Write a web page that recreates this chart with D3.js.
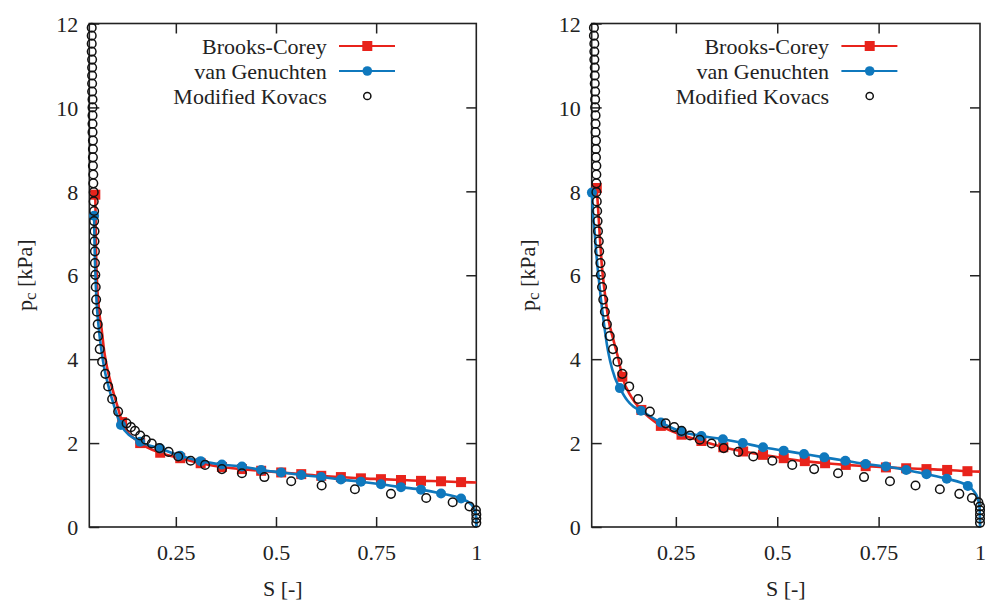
<!DOCTYPE html>
<html><head><meta charset="utf-8">
<script src="https://cdn.jsdelivr.net/npm/d3@7"></script>
<style>body{margin:0;background:#fff}svg{display:block}</style>
</head><body>
<svg id="chart" width="992" height="603"></svg>
<script>
// ---------- data ----------
const seriesNames = ["Brooks-Corey", "van Genuchten", "Modified Kovacs"];
const xTicks = [0.25, 0.5, 0.75, 1];
const xTickLabels = ["0.25", "0.5", "0.75", "1"];
const yTicks = [0, 2, 4, 6, 8, 10, 12];
const xLabel = "S [-]";

// Modified Kovacs: capillary pressure samples (kPa), shared by both panels
const kovacsPc = [11.90,11.71,11.52,11.33,11.14,10.95,10.76,10.57,10.38,10.19,10.00,9.81,9.61,9.41,9.21,9.01,8.81,8.61,8.40,8.19,
  7.98,7.76,7.53,7.29,7.05,6.81,6.57,6.29,6.01,5.72,5.42,5.13,4.83,4.55,4.24,3.94,3.65,3.35,3.05,2.75,
  2.47,2.38,2.29,2.18,2.08,1.99,1.88,1.79,1.68,1.58,1.48,1.38,1.28,1.19,1.09,0.99,0.90,0.79,0.69,0.59,
  0.49,0.40,0.30,0.20,0.10];
// saturation of each Kovacs point, left panel
const kovacsS_A = [0.040,0.040,0.040,0.040,0.041,0.041,0.041,0.041,0.041,0.042,0.042,0.042,0.042,0.042,0.043,0.043,0.043,0.043,0.044,0.044,
  0.045,0.045,0.046,0.046,0.047,0.047,0.048,0.048,0.049,0.050,0.051,0.053,0.055,0.056,0.060,0.066,0.074,0.081,0.091,0.106,
  0.127,0.138,0.148,0.161,0.175,0.190,0.209,0.232,0.256,0.287,0.323,0.365,0.415,0.471,0.538,0.614,0.697,0.787,0.875,0.941,
  0.983,0.999,1.0,1.0,1.0];
// saturation of each Kovacs point, right panel
const kovacsS_B = [0.048,0.048,0.049,0.049,0.049,0.050,0.050,0.050,0.051,0.051,0.051,0.052,0.052,0.052,0.053,0.053,0.053,0.054,0.054,0.054,
  0.054,0.055,0.056,0.057,0.058,0.060,0.061,0.064,0.065,0.068,0.071,0.075,0.080,0.087,0.095,0.106,0.118,0.135,0.157,0.186,
  0.225,0.246,0.264,0.285,0.309,0.338,0.368,0.404,0.441,0.488,0.537,0.591,0.650,0.714,0.778,0.841,0.901,0.949,0.980,0.996,
  1.0,1.0,1.0,1.0,1.0];

// Brooks-Corey, left panel: marker points and extra curve points [S, pc]
const bcMarks_A = [[0.049,7.92],[0.116,2.50],[0.161,2.00],[0.211,1.77],[0.261,1.64],[0.312,1.52],[0.365,1.43],[0.415,1.38],[0.463,1.34],
  [0.513,1.30],[0.563,1.26],[0.613,1.22],[0.662,1.19],[0.712,1.16],[0.762,1.14],[0.812,1.12],[0.862,1.10],[0.912,1.09],[0.962,1.07]];
const bcCurve_A = [[0.050,7.2],[0.051,6.5],[0.053,5.9],[0.058,5.2],[0.065,4.70],[0.071,4.2],[0.078,3.82],[0.090,3.35],[0.107,2.79],[1.0,1.06]];
// van Genuchten, left panel
const vgMarks_A = [[0.046,7.42],[0.113,2.43],[0.161,2.03],[0.211,1.87],[0.261,1.70],[0.312,1.57],[0.365,1.49],[0.415,1.44],[0.463,1.36],
  [0.513,1.30],[0.563,1.24],[0.613,1.19],[0.662,1.13],[0.712,1.08],[0.762,1.02],[0.812,0.95],[0.862,0.89],[0.912,0.80],[0.962,0.68]];
const vgCurve_A = [[0.047,6.8],[0.049,6.1],[0.052,5.4],[0.057,4.8],[0.063,4.3],[0.071,3.8],[0.082,3.35],[0.097,2.85],
  [0.985,0.56],[0.995,0.42],[0.999,0.28],[1.0,0.0]];

// Brooks-Corey, right panel
const bcMarks_B = [[0.055,8.08],[0.118,3.58],[0.165,2.79],[0.213,2.41],[0.264,2.20],[0.313,2.05],[0.367,1.90],[0.416,1.80],[0.465,1.72],
  [0.516,1.64],[0.568,1.57],[0.618,1.52],[0.669,1.48],[0.718,1.45],[0.768,1.42],[0.818,1.40],[0.868,1.38],[0.919,1.36],[0.969,1.33]];
const bcCurve_B = [[0.059,7.48],[0.063,6.85],[0.067,6.29],[0.076,5.49],[0.084,4.94],[0.096,4.46],[0.109,3.98],[0.140,3.10],[1.0,1.32]];
// van Genuchten, right panel
const vgMarks_B = [[0.043,7.97],[0.112,3.31],[0.164,2.77],[0.213,2.49],[0.264,2.27],[0.313,2.17],[0.366,2.09],[0.415,2.00],[0.465,1.90],
  [0.516,1.82],[0.566,1.74],[0.616,1.66],[0.668,1.58],[0.718,1.50],[0.768,1.44],[0.818,1.36],[0.868,1.26],[0.918,1.15],[0.970,0.98]];
const vgCurve_B = [[0.046,7.45],[0.050,7.0],[0.054,6.5],[0.059,6.0],[0.065,5.45],[0.072,4.9],[0.080,4.35],[0.088,3.95],[0.100,3.55],
  [0.130,3.02],[0.145,2.87],[0.985,0.85],[0.994,0.70],[0.999,0.45],[1.0,0.0]];

// ---------- drawing ----------
const RED = "#e8231b", BLUE = "#0f78bd", INK = "#222";
const FONT = "'Liberation Serif','Times New Roman',serif";
const svg = d3.select("#chart");

const panels = [
  {x0: 89.3, x1: 476.3, sMin: 0.034, kS: kovacsS_A, bcM: bcMarks_A, bcC: bcCurve_A, vgM: vgMarks_A, vgC: vgCurve_A},
  {x0: 591.7, x1: 980, sMin: 0.0425, kS: kovacsS_B, bcM: bcMarks_B, bcC: bcCurve_B, vgM: vgMarks_B, vgC: vgCurve_B}
];
const yTop = 23.5, yBot = 527;

panels.forEach(p => {
  const x = d3.scaleLinear().domain([p.sMin, 1]).range([p.x0, p.x1]);
  const y = d3.scaleLinear().domain([0, 12]).range([yBot, yTop]);
  const g = svg.append("g");

  // axes
  const styleAxis = sel => {
    sel.select(".domain").remove();
    sel.selectAll(".tick line").attr("stroke", INK).attr("stroke-width", 1.5);
    sel.selectAll("text").attr("font-family", FONT).attr("font-size", 22).attr("fill", INK);
  };
  g.append("g").attr("transform", `translate(0,${yBot})`)
    .call(d3.axisBottom(x).tickValues(xTicks).tickFormat((d, i) => xTickLabels[i]).tickSizeInner(-10).tickSizeOuter(0))
    .call(styleAxis)
    .call(s => s.selectAll("text").attr("y", 33).attr("dy", 0));
  g.append("g").attr("transform", `translate(0,${yTop})`)
    .call(d3.axisTop(x).tickValues(xTicks.slice(0, 3)).tickFormat("").tickSizeInner(-10).tickSizeOuter(0))
    .call(styleAxis);
  g.append("g").attr("transform", `translate(${p.x0},0)`)
    .call(d3.axisLeft(y).tickValues(yTicks).tickSizeInner(-10).tickSizeOuter(0))
    .call(styleAxis)
    .call(s => s.selectAll("text").attr("x", -11).attr("dy", "0.35em"));
  g.append("g").attr("transform", `translate(${p.x1},0)`)
    .call(d3.axisRight(y).tickValues(yTicks.slice(1, 6)).tickFormat("").tickSizeInner(-10).tickSizeOuter(0))
    .call(styleAxis);
  g.append("rect").attr("x", p.x0).attr("y", yTop).attr("width", p.x1 - p.x0).attr("height", yBot - yTop)
    .attr("fill", "none").attr("stroke", INK).attr("stroke-width", 1.6);

  // axis titles
  g.append("text").attr("x", (p.x0 + p.x1) / 2).attr("y", 596).attr("text-anchor", "middle")
    .attr("font-family", FONT).attr("font-size", 22).attr("fill", INK).text(xLabel);
  const yl = g.append("text").attr("transform", `translate(${p.x0 - 57},${(yTop + yBot) / 2}) rotate(-90)`)
    .attr("text-anchor", "middle").attr("font-family", FONT).attr("font-size", 22).attr("fill", INK);
  yl.append("tspan").text("p");
  yl.append("tspan").attr("font-size", 17).attr("dy", 4).text("c");
  yl.append("tspan").attr("dy", -4).text(" [kPa]");

  const line = d3.line().x(d => x(d[0])).y(d => y(d[1])).curve(d3.curveMonotoneX);
  const merge = (a, b) => a.concat(b).sort((u, v) => u[0] - v[0]);

  // Brooks-Corey
  g.append("path").attr("d", line(merge(p.bcM, p.bcC))).attr("fill", "none")
    .attr("stroke", RED).attr("stroke-width", 2.6);
  g.selectAll(".bcm").data(p.bcM).join("rect").attr("class", "bcm")
    .attr("x", d => x(d[0]) - 5).attr("y", d => y(d[1]) - 5).attr("width", 10).attr("height", 10).attr("fill", RED);

  // van Genuchten
  g.append("path").attr("d", line(merge(p.vgM, p.vgC))).attr("fill", "none")
    .attr("stroke", BLUE).attr("stroke-width", 2.6);
  g.selectAll(".vgm").data(p.vgM).join("circle").attr("class", "vgm")
    .attr("cx", d => x(d[0])).attr("cy", d => y(d[1])).attr("r", 5).attr("fill", BLUE);

  // Modified Kovacs
  g.selectAll(".kov").data(kovacsPc.map((v, i) => [p.kS[i], v])).join("circle").attr("class", "kov")
    .attr("cx", d => x(d[0])).attr("cy", d => y(d[1])).attr("r", 4.3)
    .attr("fill", "none").attr("stroke", "#111").attr("stroke-width", 1.5);

  // legend
  const lg = g.append("g").attr("transform", `translate(${p.x0},0)`);
  const rows = [46, 71, 96];
  seriesNames.forEach((name, i) => {
    lg.append("text").attr("x", 237.4).attr("y", rows[i] + 7.5).attr("text-anchor", "end")
      .attr("font-family", FONT).attr("font-size", 22).attr("fill", INK).text(name);
  });
  lg.append("line").attr("x1", 249.7).attr("x2", 305.7).attr("y1", rows[0]).attr("y2", rows[0]).attr("stroke", RED).attr("stroke-width", 2);
  lg.append("rect").attr("x", 278 - 5).attr("y", rows[0] - 5).attr("width", 10).attr("height", 10).attr("fill", RED);
  lg.append("line").attr("x1", 249.7).attr("x2", 305.7).attr("y1", rows[1]).attr("y2", rows[1]).attr("stroke", BLUE).attr("stroke-width", 2);
  lg.append("circle").attr("cx", 278).attr("cy", rows[1]).attr("r", 4.8).attr("fill", BLUE);
  lg.append("circle").attr("cx", 278).attr("cy", rows[2]).attr("r", 3.6).attr("fill", "none").attr("stroke", "#111").attr("stroke-width", 1.5);
});
</script>
</body></html>
